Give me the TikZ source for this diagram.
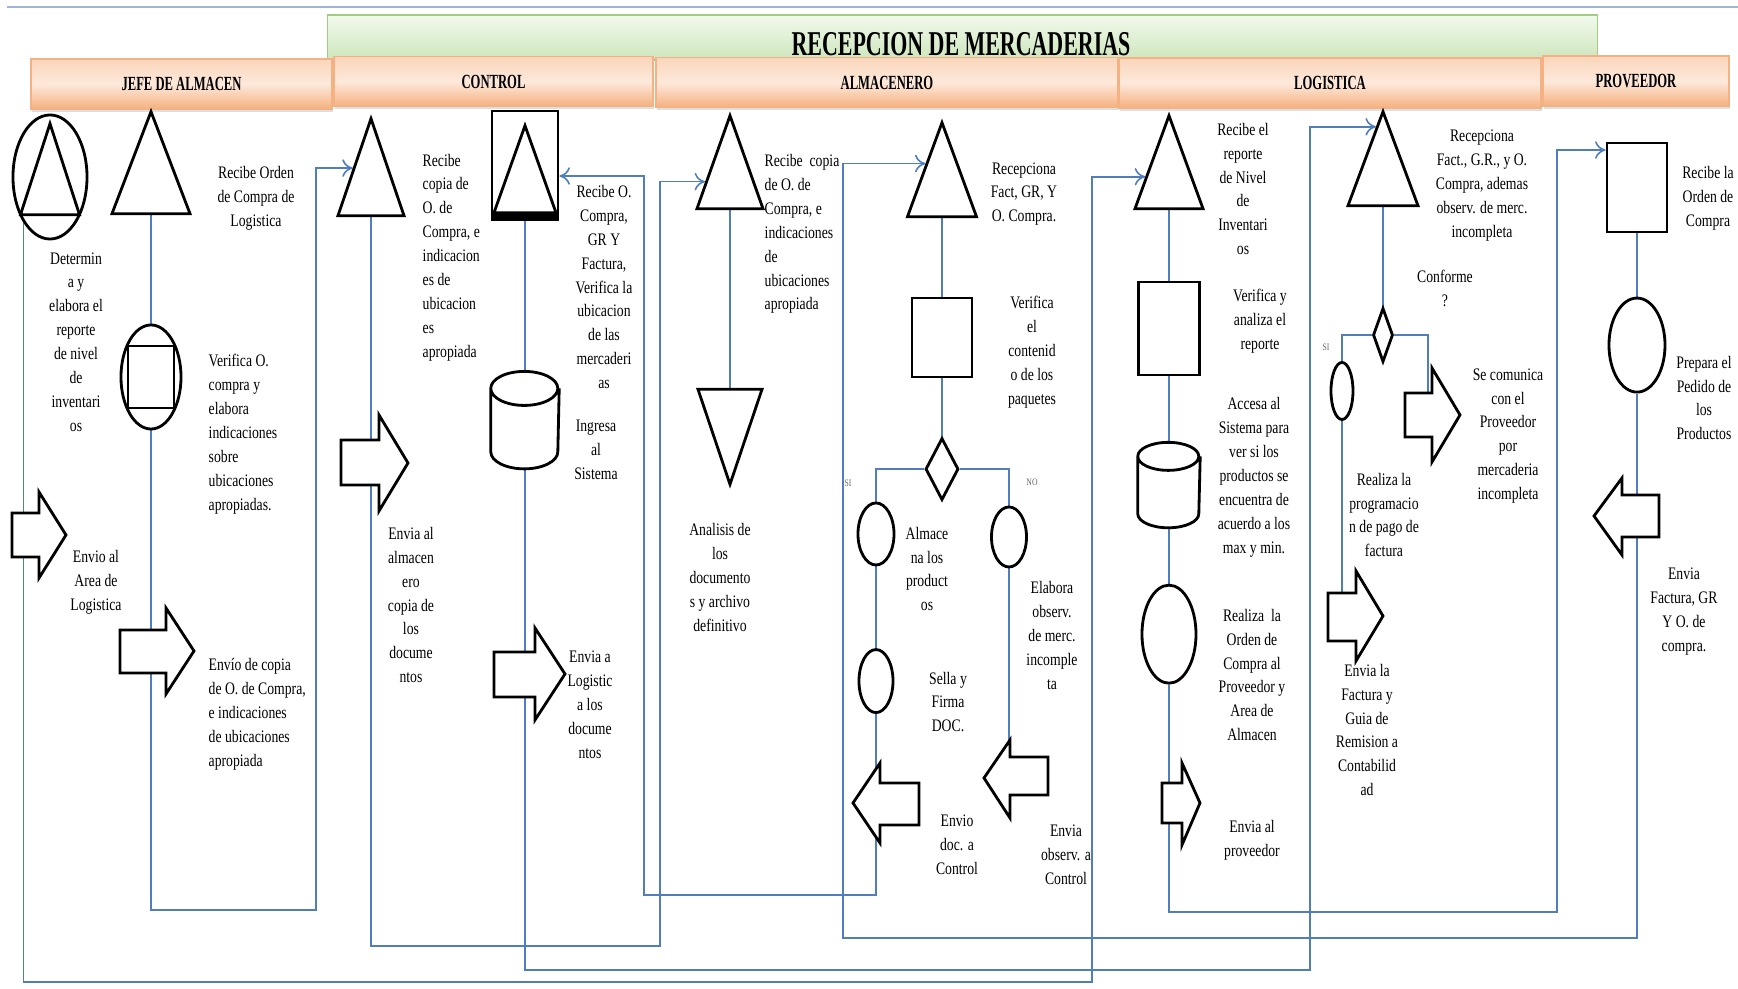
\documentclass[tikz,border=0pt]{standalone}
\usepackage{fontspec}
\setmainfont{Liberation Serif}[FakeStretch=0.78]
\newfontfamily\condfont{Liberation Serif}[FakeStretch=0.63]
\usetikzlibrary{shapes,arrows,arrows.meta,shadows,calc}

\definecolor{flowblue}{RGB}{79,125,190}
\definecolor{topline}{RGB}{160,180,215}
\definecolor{lanetop}{RGB}{250,213,186}
\definecolor{lanemid}{RGB}{253,233,219}
\definecolor{lanebot}{RGB}{245,176,126}
\definecolor{laneedge}{RGB}{244,177,131}
\definecolor{titletop}{RGB}{242,249,237}
\definecolor{titlebot}{RGB}{205,230,188}
\definecolor{titleedge}{RGB}{160,205,130}

\pgfdeclarelayer{background}
\pgfsetlayers{background,main}

\begin{document}
\begin{tikzpicture}[x=0.01cm, y=-0.01cm, node distance=1.5cm, auto]
  \tikzstyle{lane} = [rectangle, draw=laneedge, top color=lanetop, bottom color=lanebot,
    middle color=lanemid, minimum height=0.5cm, inner sep=0pt,
    drop shadow={shadow xshift=0.3pt, shadow yshift=-0.8pt, opacity=0.25},
    font=\condfont\bfseries\fontsize{5.7}{6}\selectfont]
  \tikzstyle{titlebox} = [rectangle, draw=titleedge, top color=titletop, bottom color=titlebot]
  \tikzstyle{tri} = [isosceles triangle, isosceles triangle stretches, shape border rotate=90,
    draw, fill=white, line width=0.8pt, inner sep=0pt]
  \tikzstyle{oval} = [ellipse, draw, fill=white, line width=0.8pt, inner sep=0pt]
  \tikzstyle{box} = [rectangle, draw, fill=white, line width=0.8pt, inner sep=0pt]
  \tikzstyle{decision} = [diamond, draw, fill=white, line width=0.8pt, inner sep=0pt]
  \tikzstyle{store} = [rectangle, fill=white, inner sep=0pt]
  \tikzstyle{storeline} = [draw, line width=0.8pt]
  \tikzstyle{blockarrow} = [draw, fill=white, line width=0.8pt, line join=miter]
  \tikzstyle{note} = [inner sep=0pt, align=center, font=\fontsize{5}{6.8}\selectfont]
  \tikzstyle{branch} = [inner sep=0pt, text=black!60, font=\fontsize{2.8}{3}\selectfont]
  \tikzstyle{line} = [draw=flowblue, line width=0.45pt]
  \tikzstyle{flow} = [line, -{To[length=3pt, width=5pt]}]

  \useasboundingbox (0,0) rectangle (1738,989);
  \draw [topline, line width=0.6pt] (7,7) -- (1738,7);

  % Title and lanes
  \node [titlebox, minimum width=12.69cm, minimum height=0.45cm] (titlebox) at (962.5,37.5) {};
  \node [inner sep=0pt, font=\condfont\bfseries\fontsize{9.9}{10}\selectfont] (title) at (961,44) {RECEPCION DE MERCADERIAS};
  \node [lane, minimum width=3.01cm] (jefe) at (181.5,84) {JEFE DE ALMACEN};
  \node [lane, minimum width=3.19cm] (control) at (493.5,81.5) {CONTROL};
  \node [lane, minimum width=4.62cm] (almacenero) at (887,82.5) {ALMACENERO};
  \node [lane, minimum width=4.22cm] (logistica) at (1330,83) {LOGISTICA};
  \node [lane, minimum width=1.86cm] (proveedor) at (1636,81) {PROVEEDOR};

  % Jefe de almacen
  \node [oval, minimum width=0.74cm, minimum height=1.24cm] (jct) at (50,177) {};
  \node [tri, anchor=apex, minimum width=0.59cm, minimum height=0.91cm] (jctt) at (50,120) {};
  \node [tri, anchor=apex, minimum width=0.78cm, minimum height=1.02cm] (jt2) at (151,108) {};
  \node [oval, minimum width=0.60cm, minimum height=1.04cm] (jcs) at (151,377) {};
  \node [box, minimum width=0.46cm, minimum height=0.62cm] (jcsq) at (151,377) {};
  \draw [blockarrow] (12,513) -- (39,513) -- (39,492) -- (66,535) -- (39,578) -- (39,557) -- (12,557) -- cycle;
  \draw [blockarrow] (120,630) -- (166,630) -- (166,608) -- (194,651) -- (166,694) -- (166,673) -- (120,673) -- cycle;

  \node [note] (tjt2) at (256,198) {Recibe Orden\\de Compra de\\Logistica};
  \node [note] (tjct) at (76,342) {Determin\\a y\\elabora el\\reporte\\de nivel\\de\\inventari\\os};
  \node [note, align=left, anchor=west] (tjcs) at (208,434) {Verifica O.\\compra y\\elabora\\indicaciones\\sobre\\ubicaciones\\apropiadas.};
  \node [note] (tja1) at (96,582) {Envio al\\Area de\\Logistica};
  \node [note, align=left, anchor=west] (tja2) at (208,714.5) {Envío de copia\\de O. de Compra,\\e indicaciones\\de ubicaciones\\apropiada};

  % Control
  \node [tri, anchor=apex, minimum width=0.66cm, minimum height=0.97cm] (ct1) at (371,115) {};
  \node [box, minimum width=0.66cm, minimum height=1.05cm] (cr) at (525,163.5) {};
  \draw [line width=2pt] (cr.south west) -- (cr.south east);
  \node [tri, anchor=apex, minimum width=0.62cm, minimum height=0.87cm] (crt) at (525,122) {};
  \node [store, below of=cr, node distance=2.565cm, minimum width=0.67cm, minimum height=0.96cm] (ccyl) {};
  \draw [storeline] ([yshift=-0.17cm]ccyl.north west) arc (180:360:0.335cm and 0.17cm)
    arc (0:180:0.335cm and 0.17cm) -- ([yshift=0.17cm]ccyl.south west)
    arc (180:360:0.335cm and 0.17cm) -- ([yshift=-0.17cm]ccyl.north east);
  \draw [blockarrow] (341,440) -- (379,440) -- (379,415) -- (408,463) -- (379,511) -- (379,485) -- (341,485) -- cycle;
  \draw [blockarrow] (494,652) -- (535,652) -- (535,628) -- (565,674) -- (535,720) -- (535,697) -- (494,697) -- cycle;

  \node [note, align=left, anchor=west] (tct1) at (422,257.5) {Recibe\\copia de\\O. de\\Compra, e\\indicacion\\es de\\ubicacion\\es\\apropiada};
  \node [note] (tca3) at (411,605) {Envia al\\almacen\\ero\\copia de\\los\\docume\\ntos};
  \node [note] (tcr) at (604,287) {Recibe O.\\Compra,\\GR Y\\Factura,\\Verifica la\\ubicacion\\de las\\mercaderi\\as};
  \node [note] (tccyl) at (596,450) {Ingresa\\al\\Sistema};
  \node [note] (tca4) at (590,704.5) {Envia a\\Logistic\\a los\\docume\\ntos};

  % Almacenero
  \node [tri, anchor=apex, minimum width=0.66cm, minimum height=0.93cm] (at1) at (730,112) {};
  \node [tri, shape border rotate=270, anchor=apex, minimum width=0.64cm, minimum height=0.95cm] (ainv) at (730,488) {};
  \node [tri, anchor=apex, minimum width=0.69cm, minimum height=0.94cm] (at2) at (942,119) {};
  \node [box, minimum width=0.60cm, minimum height=0.79cm] (asq) at (942,337.5) {};
  \node [decision, below of=asq, node distance=1.315cm, minimum width=0.33cm, minimum height=0.62cm] (adia) {};
  \node [oval, minimum width=0.36cm, minimum height=0.62cm] (asi) at (876,534) {};
  \node [oval, minimum width=0.35cm, minimum height=0.60cm] (ano) at (1009,537) {};
  \node [oval, below of=asi, node distance=1.47cm, minimum width=0.34cm, minimum height=0.63cm] (asella) {};
  \draw [blockarrow] (919,783) -- (880,783) -- (880,763) -- (853,803) -- (880,843) -- (880,825) -- (919,825) -- cycle;
  \draw [blockarrow] (1048,757) -- (1010,757) -- (1010,740) -- (984,778) -- (1010,818) -- (1010,795) -- (1048,795) -- cycle;
  \coordinate (aobs) at (1009,778);

  \node [note, align=left, anchor=west] (tat1) at (764,234) {Recibe\ \ copia\\de O. de\\Compra, e\\indicaciones\\de\\ubicaciones\\apropiada};
  \node [note] (tainv) at (720,577.5) {Analisis de\\los\\documento\\s y archivo\\definitivo};
  \node [note] (tat2) at (1024,194) {Recepciona\\Fact, GR, Y\\O. Compra.};
  \node [note] (tasq) at (1032,352) {Verifica\\el\\contenid\\o de los\\paquetes};
  \node [branch] (tsi) at (848,483) {SI};
  \node [branch] (tno) at (1032,482) {NO};
  \node [note] (tasi) at (927,569) {Almace\\na los\\product\\os};
  \node [note] (tano) at (1052,635.5) {Elabora\\observ.\\de merc.\\incomple\\ta};
  \node [note] (tasella) at (948,702) {Sella y\\Firma\\DOC.};
  \node [note] (taa1) at (957,845) {Envio\\doc. a\\Control};
  \node [note] (taa2) at (1066,855) {Envia\\observ. a\\Control};

  % Logistica
  \node [tri, anchor=apex, minimum width=0.68cm, minimum height=0.93cm] (lt1) at (1169,112) {};
  \node [box, minimum width=0.61cm, minimum height=0.93cm] (ls) at (1169,328.5) {};
  \node [store, below of=ls, node distance=1.565cm, minimum width=0.61cm, minimum height=0.84cm] (lcyl) {};
  \draw [storeline] ([yshift=-0.14cm]lcyl.north west) arc (180:360:0.305cm and 0.14cm)
    arc (0:180:0.305cm and 0.14cm) -- ([yshift=0.14cm]lcyl.south west)
    arc (180:360:0.305cm and 0.14cm) -- ([yshift=-0.14cm]lcyl.north east);
  \node [oval, below of=lcyl, node distance=1.49cm, minimum width=0.54cm, minimum height=0.98cm] (lel) {};
  \node [tri, anchor=apex, minimum width=0.70cm, minimum height=0.94cm] (lt2) at (1383,108) {};
  \node [decision, minimum width=0.20cm, minimum height=0.54cm] (ldia) at (1383,335) {};
  \node [oval, minimum width=0.22cm, minimum height=0.57cm] (lsi) at (1342,391) {};
  \draw [blockarrow] (1162,783) -- (1182,783) -- (1182,763) -- (1200,803) -- (1182,845) -- (1182,823) -- (1162,823) -- cycle;
  \draw [blockarrow] (1405,393) -- (1432,393) -- (1432,368) -- (1460,415) -- (1432,462) -- (1432,437) -- (1405,437) -- cycle;
  \draw [blockarrow] (1328,593) -- (1356,593) -- (1356,571) -- (1383,616) -- (1356,661) -- (1356,641) -- (1328,641) -- cycle;
  \coordinate (lcom) at (1428,415);
  \coordinate (lfac) at (1342,616);

  \node [note] (tlt1) at (1243,189) {Recibe el\\reporte\\de Nivel\\de\\Inventari\\os};
  \node [note] (tls) at (1260,321) {Verifica y\\analiza el\\reporte};
  \node [note] (tlcyl) at (1254,477.5) {Accesa al\\Sistema para\\ver si los\\productos se\\encuentra de\\acuerdo a los\\max y min.};
  \node [note] (tlel) at (1252,675) {Realiza\ \ la\\Orden de\\Compra al\\Proveedor y\\Area de\\Almacen};
  \node [note] (tla1) at (1252,840) {Envia al\\proveedor};
  \node [note] (tlt2) at (1482,185.5) {Recepciona\\Fact., G.R., y O.\\Compra, ademas\\observ. de merc.\\incompleta};
  \node [note] (tldia) at (1445,288.5) {Conforme\\?};
  \node [branch] (tlsi) at (1326,347) {SI};
  \node [note] (tlsi2) at (1384,515) {Realiza la\\programacio\\n de pago de\\factura};
  \node [note] (tla2) at (1508,436) {Se comunica\\con el\\Proveedor\\por\\mercaderia\\incompleta};
  \node [note] (tla3) at (1367,730) {Envia la\\Factura y\\Guia de\\Remision a\\Contabilid\\ad};

  % Proveedor
  \node [box, minimum width=0.60cm, minimum height=0.89cm] (pr) at (1637,187.5) {};
  \node [oval, below of=pr, node distance=1.575cm, minimum width=0.56cm, minimum height=0.94cm] (pel) {};
  \draw [blockarrow] (1659,495) -- (1622,495) -- (1622,478) -- (1594,516) -- (1622,555) -- (1622,537) -- (1659,537) -- cycle;

  \node [note] (tpr) at (1708,198.5) {Recibe la\\Orden de\\Compra};
  \node [note] (tpel) at (1704,398) {Prepara el\\Pedido de\\los\\Productos};
  \node [note] (tpa) at (1684,611.5) {Envia\\Factura, GR\\Y O. de\\compra.};

  % Corners of the long connectors
  \coordinate (c1) at (1092,982);
  \coordinate (c2) at (316,910);
  \coordinate (c3) at (660,946);
  \coordinate (c4) at (1310,970);
  \coordinate (c5) at (644,895);
  \coordinate (c6) at (1557,912);
  \coordinate (c7) at (843,938);

  % Draw edges
  \begin{pgfonlayer}{background}
  \path [line] (jt2) -- (jcs);
  \path [flow] (jct.240) |- (c1) |- ($(lt1.apex)!0.66!(lt1.left corner)$);
  \path [flow] (jcs) |- (c2) |- ($(ct1.apex)!0.52!(ct1.left corner)$);
  \path [flow] (ct1) |- (c3) |- ($(at1.apex)!0.71!(at1.left corner)$);
  \path [line] (cr) -- (ccyl);
  \path [flow] (ccyl) |- (c4) |- ($(lt2.apex)!0.19!(lt2.left corner)$);
  \path [line] (at1) -- (ainv);
  \path [line] (at2) -- (asq);
  \path [line] (asq) -- (adia);
  \path [line] (adia) -| (asi);
  \path [line] (adia) -| (ano);
  \path [line] (asi) -- (asella);
  \path [flow] (asella) |- (c5) |- (cr.340);
  \path [line] (ano) -- (aobs);
  \path [line] (lt1) -- (ls);
  \path [line] (ls) -- (lcyl);
  \path [line] (lcyl) -- (lel);
  \path [flow] (lel) |- (c6) |- (pr.130);
  \path [line] (lt2) -- (ldia);
  \path [line] (ldia) -| (lsi);
  \path [line] (ldia) -| (lcom);
  \path [line] (lsi) -- (lfac);
  \path [line] (pr) -- (pel);
  \path [flow] (pel) |- (c7) |- ($(at2.apex)!0.45!(at2.left corner)$);
  \end{pgfonlayer}
\end{tikzpicture}
\end{document}
